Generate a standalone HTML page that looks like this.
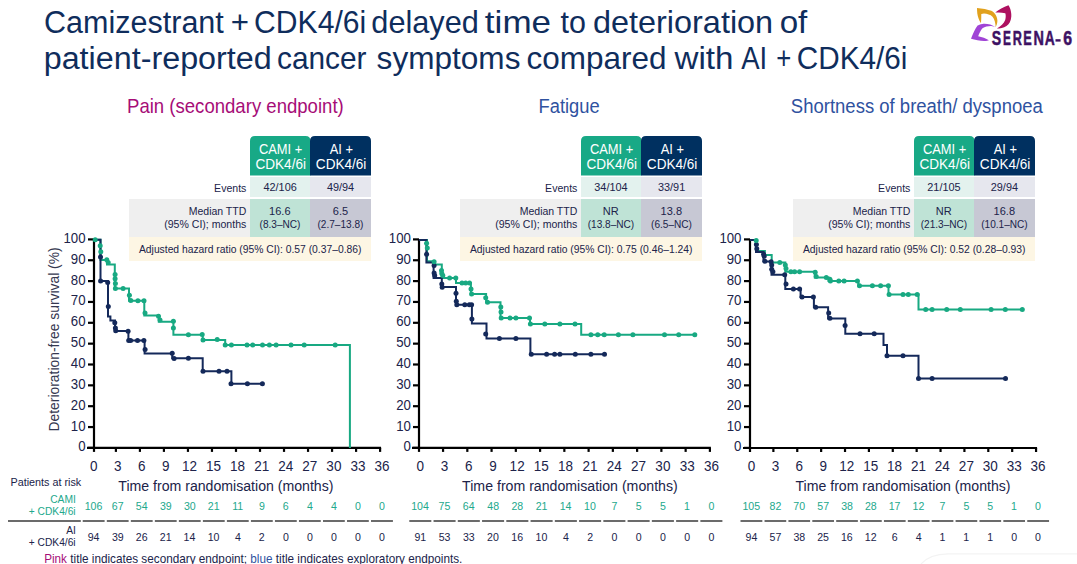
<!DOCTYPE html>
<html><head><meta charset="utf-8"><style>
html,body{margin:0;padding:0;background:#fff;width:1077px;height:564px;overflow:hidden}
svg{display:block;font-family:"Liberation Sans",sans-serif}
</style></head><body>
<svg width="1077" height="564" viewBox="0 0 1077 564">
<path d="M250,175.5 V141 Q250,136 255,136 H305.5 Q310.5,136 310.5,141 V175.5 Z" fill="#18a986"/>
<path d="M310,175.5 V141 Q310,136 315,136 H366 Q371,136 371,141 V175.5 Z" fill="#003060"/>
<rect x="250" y="177" width="60" height="20" fill="#e3f2ee"/>
<rect x="310" y="177" width="61" height="20" fill="#e6e7ee"/>
<rect x="129" y="199" width="121" height="38" fill="#efefef"/>
<rect x="250" y="199" width="60" height="38" fill="#bfe3d6"/>
<rect x="310" y="199" width="61" height="38" fill="#c7c8d4"/>
<rect x="129" y="237" width="242" height="24" fill="#fdf6e4"/>
<path d="M581,175.5 V141 Q581,136 586,136 H636.5 Q641.5,136 641.5,141 V175.5 Z" fill="#18a986"/>
<path d="M641,175.5 V141 Q641,136 646,136 H697 Q702,136 702,141 V175.5 Z" fill="#003060"/>
<rect x="581" y="177" width="60" height="20" fill="#e3f2ee"/>
<rect x="641" y="177" width="61" height="20" fill="#e6e7ee"/>
<rect x="460" y="199" width="121" height="38" fill="#efefef"/>
<rect x="581" y="199" width="60" height="38" fill="#bfe3d6"/>
<rect x="641" y="199" width="61" height="38" fill="#c7c8d4"/>
<rect x="460" y="237" width="242" height="24" fill="#fdf6e4"/>
<path d="M914,175.5 V141 Q914,136 919,136 H969.5 Q974.5,136 974.5,141 V175.5 Z" fill="#18a986"/>
<path d="M974,175.5 V141 Q974,136 979,136 H1030 Q1035,136 1035,141 V175.5 Z" fill="#003060"/>
<rect x="914" y="177" width="60" height="20" fill="#e3f2ee"/>
<rect x="974" y="177" width="61" height="20" fill="#e6e7ee"/>
<rect x="793" y="199" width="121" height="38" fill="#efefef"/>
<rect x="914" y="199" width="60" height="38" fill="#bfe3d6"/>
<rect x="974" y="199" width="61" height="38" fill="#c7c8d4"/>
<rect x="793" y="237" width="242" height="24" fill="#fdf6e4"/>
<path d="M94,239.39999999999998 V448.9" stroke="#000" stroke-width="2.2" fill="none"/>
<path d="M87,447.9 H381.096" stroke="#000" stroke-width="2.2" fill="none"/>
<path d="M88,447.90 H94" stroke="#000" stroke-width="2.2"/>
<path d="M88,427.05 H94" stroke="#000" stroke-width="2.2"/>
<path d="M88,406.20 H94" stroke="#000" stroke-width="2.2"/>
<path d="M88,385.35 H94" stroke="#000" stroke-width="2.2"/>
<path d="M88,364.50 H94" stroke="#000" stroke-width="2.2"/>
<path d="M88,343.65 H94" stroke="#000" stroke-width="2.2"/>
<path d="M88,322.80 H94" stroke="#000" stroke-width="2.2"/>
<path d="M88,301.95 H94" stroke="#000" stroke-width="2.2"/>
<path d="M88,281.10 H94" stroke="#000" stroke-width="2.2"/>
<path d="M88,260.25 H94" stroke="#000" stroke-width="2.2"/>
<path d="M88,239.40 H94" stroke="#000" stroke-width="2.2"/>
<path d="M94.00,447.9 V451.9" stroke="#000" stroke-width="2.2"/>
<path d="M115.90,447.9 V451.9" stroke="#000" stroke-width="2.2"/>
<path d="M139.92,447.9 V451.9" stroke="#000" stroke-width="2.2"/>
<path d="M163.93,447.9 V451.9" stroke="#000" stroke-width="2.2"/>
<path d="M187.95,447.9 V451.9" stroke="#000" stroke-width="2.2"/>
<path d="M211.97,447.9 V451.9" stroke="#000" stroke-width="2.2"/>
<path d="M235.99,447.9 V451.9" stroke="#000" stroke-width="2.2"/>
<path d="M260.01,447.9 V451.9" stroke="#000" stroke-width="2.2"/>
<path d="M284.02,447.9 V451.9" stroke="#000" stroke-width="2.2"/>
<path d="M308.04,447.9 V451.9" stroke="#000" stroke-width="2.2"/>
<path d="M332.06,447.9 V451.9" stroke="#000" stroke-width="2.2"/>
<path d="M356.08,447.9 V451.9" stroke="#000" stroke-width="2.2"/>
<path d="M380.10,447.9 V451.9" stroke="#000" stroke-width="2.2"/>
<path d="M82.70,521 H104.61" stroke="#6b6b6b" stroke-width="2"/>
<path d="M106.81,521 H128.63" stroke="#6b6b6b" stroke-width="2"/>
<path d="M130.83,521 H152.65" stroke="#6b6b6b" stroke-width="2"/>
<path d="M154.84,521 H176.66" stroke="#6b6b6b" stroke-width="2"/>
<path d="M178.86,521 H200.68" stroke="#6b6b6b" stroke-width="2"/>
<path d="M202.88,521 H224.70" stroke="#6b6b6b" stroke-width="2"/>
<path d="M226.90,521 H248.72" stroke="#6b6b6b" stroke-width="2"/>
<path d="M250.92,521 H272.74" stroke="#6b6b6b" stroke-width="2"/>
<path d="M274.94,521 H296.75" stroke="#6b6b6b" stroke-width="2"/>
<path d="M298.95,521 H320.77" stroke="#6b6b6b" stroke-width="2"/>
<path d="M322.97,521 H344.79" stroke="#6b6b6b" stroke-width="2"/>
<path d="M346.99,521 H368.81" stroke="#6b6b6b" stroke-width="2"/>
<path d="M371.01,521 H392.92" stroke="#6b6b6b" stroke-width="2"/>
<path d="M419,239.39999999999998 V448.9" stroke="#000" stroke-width="2.2" fill="none"/>
<path d="M412,447.9 H710.896" stroke="#000" stroke-width="2.2" fill="none"/>
<path d="M413,447.90 H419" stroke="#000" stroke-width="2.2"/>
<path d="M413,427.05 H419" stroke="#000" stroke-width="2.2"/>
<path d="M413,406.20 H419" stroke="#000" stroke-width="2.2"/>
<path d="M413,385.35 H419" stroke="#000" stroke-width="2.2"/>
<path d="M413,364.50 H419" stroke="#000" stroke-width="2.2"/>
<path d="M413,343.65 H419" stroke="#000" stroke-width="2.2"/>
<path d="M413,322.80 H419" stroke="#000" stroke-width="2.2"/>
<path d="M413,301.95 H419" stroke="#000" stroke-width="2.2"/>
<path d="M413,281.10 H419" stroke="#000" stroke-width="2.2"/>
<path d="M413,260.25 H419" stroke="#000" stroke-width="2.2"/>
<path d="M413,239.40 H419" stroke="#000" stroke-width="2.2"/>
<path d="M419.00,447.9 V451.9" stroke="#000" stroke-width="2.2"/>
<path d="M443.06,447.9 V451.9" stroke="#000" stroke-width="2.2"/>
<path d="M467.32,447.9 V451.9" stroke="#000" stroke-width="2.2"/>
<path d="M491.57,447.9 V451.9" stroke="#000" stroke-width="2.2"/>
<path d="M515.83,447.9 V451.9" stroke="#000" stroke-width="2.2"/>
<path d="M540.09,447.9 V451.9" stroke="#000" stroke-width="2.2"/>
<path d="M564.35,447.9 V451.9" stroke="#000" stroke-width="2.2"/>
<path d="M588.61,447.9 V451.9" stroke="#000" stroke-width="2.2"/>
<path d="M612.86,447.9 V451.9" stroke="#000" stroke-width="2.2"/>
<path d="M637.12,447.9 V451.9" stroke="#000" stroke-width="2.2"/>
<path d="M661.38,447.9 V451.9" stroke="#000" stroke-width="2.2"/>
<path d="M685.64,447.9 V451.9" stroke="#000" stroke-width="2.2"/>
<path d="M709.90,447.9 V451.9" stroke="#000" stroke-width="2.2"/>
<path d="M409.30,521 H431.33" stroke="#6b6b6b" stroke-width="2"/>
<path d="M433.53,521 H455.59" stroke="#6b6b6b" stroke-width="2"/>
<path d="M457.79,521 H479.85" stroke="#6b6b6b" stroke-width="2"/>
<path d="M482.05,521 H504.10" stroke="#6b6b6b" stroke-width="2"/>
<path d="M506.30,521 H528.36" stroke="#6b6b6b" stroke-width="2"/>
<path d="M530.56,521 H552.62" stroke="#6b6b6b" stroke-width="2"/>
<path d="M554.82,521 H576.88" stroke="#6b6b6b" stroke-width="2"/>
<path d="M579.08,521 H601.13" stroke="#6b6b6b" stroke-width="2"/>
<path d="M603.34,521 H625.39" stroke="#6b6b6b" stroke-width="2"/>
<path d="M627.59,521 H649.65" stroke="#6b6b6b" stroke-width="2"/>
<path d="M651.85,521 H673.91" stroke="#6b6b6b" stroke-width="2"/>
<path d="M676.11,521 H698.17" stroke="#6b6b6b" stroke-width="2"/>
<path d="M700.37,521 H722.40" stroke="#6b6b6b" stroke-width="2"/>
<path d="M750,239.39999999999998 V449.0" stroke="#000" stroke-width="2.2" fill="none"/>
<path d="M743,448.0 H1037.06" stroke="#000" stroke-width="2.2" fill="none"/>
<path d="M744,447.90 H750" stroke="#000" stroke-width="2.2"/>
<path d="M744,427.05 H750" stroke="#000" stroke-width="2.2"/>
<path d="M744,406.20 H750" stroke="#000" stroke-width="2.2"/>
<path d="M744,385.35 H750" stroke="#000" stroke-width="2.2"/>
<path d="M744,364.50 H750" stroke="#000" stroke-width="2.2"/>
<path d="M744,343.65 H750" stroke="#000" stroke-width="2.2"/>
<path d="M744,322.80 H750" stroke="#000" stroke-width="2.2"/>
<path d="M744,301.95 H750" stroke="#000" stroke-width="2.2"/>
<path d="M744,281.10 H750" stroke="#000" stroke-width="2.2"/>
<path d="M744,260.25 H750" stroke="#000" stroke-width="2.2"/>
<path d="M744,239.40 H750" stroke="#000" stroke-width="2.2"/>
<path d="M750.00,448.0 V452.0" stroke="#000" stroke-width="2.2"/>
<path d="M773.38,448.0 V452.0" stroke="#000" stroke-width="2.2"/>
<path d="M797.26,448.0 V452.0" stroke="#000" stroke-width="2.2"/>
<path d="M821.14,448.0 V452.0" stroke="#000" stroke-width="2.2"/>
<path d="M845.02,448.0 V452.0" stroke="#000" stroke-width="2.2"/>
<path d="M868.90,448.0 V452.0" stroke="#000" stroke-width="2.2"/>
<path d="M892.78,448.0 V452.0" stroke="#000" stroke-width="2.2"/>
<path d="M916.66,448.0 V452.0" stroke="#000" stroke-width="2.2"/>
<path d="M940.54,448.0 V452.0" stroke="#000" stroke-width="2.2"/>
<path d="M964.42,448.0 V452.0" stroke="#000" stroke-width="2.2"/>
<path d="M988.30,448.0 V452.0" stroke="#000" stroke-width="2.2"/>
<path d="M1012.18,448.0 V452.0" stroke="#000" stroke-width="2.2"/>
<path d="M1036.06,448.0 V452.0" stroke="#000" stroke-width="2.2"/>
<path d="M740.50,521 H762.34" stroke="#6b6b6b" stroke-width="2"/>
<path d="M764.54,521 H786.22" stroke="#6b6b6b" stroke-width="2"/>
<path d="M788.42,521 H810.10" stroke="#6b6b6b" stroke-width="2"/>
<path d="M812.30,521 H833.98" stroke="#6b6b6b" stroke-width="2"/>
<path d="M836.18,521 H857.86" stroke="#6b6b6b" stroke-width="2"/>
<path d="M860.06,521 H881.74" stroke="#6b6b6b" stroke-width="2"/>
<path d="M883.94,521 H905.62" stroke="#6b6b6b" stroke-width="2"/>
<path d="M907.82,521 H929.50" stroke="#6b6b6b" stroke-width="2"/>
<path d="M931.70,521 H953.38" stroke="#6b6b6b" stroke-width="2"/>
<path d="M955.58,521 H977.26" stroke="#6b6b6b" stroke-width="2"/>
<path d="M979.46,521 H1001.14" stroke="#6b6b6b" stroke-width="2"/>
<path d="M1003.34,521 H1025.02" stroke="#6b6b6b" stroke-width="2"/>
<path d="M1027.22,521 H1049.06" stroke="#6b6b6b" stroke-width="2"/>
<path d="M8,521 H80.8" stroke="#6b6b6b" stroke-width="2"/>
<path d="M94,239.7 H100.5 V259.9 H107 V264.4 H114.8 V288.6 H129 V300.8 H144.3 V315.6 H158.8 V321.8 H173.4 V334.8 H202.7 V339.9 H225.2 V345 H349.9 V447.9" stroke="#18a982" stroke-width="2" fill="none"/>
<path d="M94,239.7 H100.5 V281 H108 V316.5 H110.4 V320.5 H115 V331 H128.4 V340.4 H144.6 V353.4 H172.2 V358.3 H202.7 V371.3 H231.4 V383.7 H262.4" stroke="#14295a" stroke-width="2" fill="none"/>
<circle cx="100.5" cy="257.1" r="2.5" fill="#14295a"/><circle cx="100.6" cy="281" r="2.5" fill="#14295a"/><circle cx="107.7" cy="282.4" r="2.5" fill="#14295a"/><circle cx="108.3" cy="306.4" r="2.5" fill="#14295a"/><circle cx="114.8" cy="322.7" r="2.5" fill="#14295a"/><circle cx="115.4" cy="328" r="2.5" fill="#14295a"/><circle cx="115.7" cy="330.7" r="2.5" fill="#14295a"/><circle cx="128.1" cy="331.2" r="2.5" fill="#14295a"/><circle cx="128.7" cy="340.4" r="2.5" fill="#14295a"/><circle cx="130.6" cy="340.4" r="2.5" fill="#14295a"/><circle cx="137.5" cy="340.4" r="2.5" fill="#14295a"/><circle cx="143.9" cy="340.4" r="2.5" fill="#14295a"/><circle cx="145.1" cy="349.5" r="2.5" fill="#14295a"/><circle cx="172.2" cy="353.2" r="2.5" fill="#14295a"/><circle cx="174.1" cy="358.4" r="2.5" fill="#14295a"/><circle cx="188.4" cy="358.3" r="2.5" fill="#14295a"/><circle cx="203" cy="371.3" r="2.5" fill="#14295a"/><circle cx="219" cy="371.3" r="2.5" fill="#14295a"/><circle cx="227" cy="371.3" r="2.5" fill="#14295a"/><circle cx="231" cy="383.7" r="2.5" fill="#14295a"/><circle cx="247.4" cy="383.7" r="2.5" fill="#14295a"/><circle cx="262.4" cy="383.7" r="2.5" fill="#14295a"/>
<circle cx="95.2" cy="239.7" r="2.5" fill="#18a982"/><circle cx="100.2" cy="245.8" r="2.5" fill="#18a982"/><circle cx="100.8" cy="251.7" r="2.5" fill="#18a982"/><circle cx="106.8" cy="259.8" r="2.5" fill="#18a982"/><circle cx="108.2" cy="262.5" r="2.5" fill="#18a982"/><circle cx="115.1" cy="274.6" r="2.5" fill="#18a982"/><circle cx="115.1" cy="278.8" r="2.5" fill="#18a982"/><circle cx="115.4" cy="283.6" r="2.5" fill="#18a982"/><circle cx="115.4" cy="288.4" r="2.5" fill="#18a982"/><circle cx="123.1" cy="288.4" r="2.5" fill="#18a982"/><circle cx="129.4" cy="295.2" r="2.5" fill="#18a982"/><circle cx="130.8" cy="300.5" r="2.5" fill="#18a982"/><circle cx="137.9" cy="300.8" r="2.5" fill="#18a982"/><circle cx="144" cy="300.8" r="2.5" fill="#18a982"/><circle cx="145" cy="313" r="2.5" fill="#18a982"/><circle cx="158.5" cy="316.2" r="2.5" fill="#18a982"/><circle cx="160" cy="320" r="2.5" fill="#18a982"/><circle cx="173.4" cy="321.2" r="2.5" fill="#18a982"/><circle cx="173.4" cy="328" r="2.5" fill="#18a982"/><circle cx="188.4" cy="334.8" r="2.5" fill="#18a982"/><circle cx="202.2" cy="334.5" r="2.5" fill="#18a982"/><circle cx="203" cy="339.9" r="2.5" fill="#18a982"/><circle cx="217.2" cy="339.6" r="2.5" fill="#18a982"/><circle cx="225.2" cy="345" r="2.5" fill="#18a982"/><circle cx="231.4" cy="345" r="2.5" fill="#18a982"/><circle cx="247" cy="345" r="2.5" fill="#18a982"/><circle cx="252.7" cy="345" r="2.5" fill="#18a982"/><circle cx="262.5" cy="345" r="2.5" fill="#18a982"/><circle cx="269.4" cy="345" r="2.5" fill="#18a982"/><circle cx="276.1" cy="345" r="2.5" fill="#18a982"/><circle cx="291" cy="345" r="2.5" fill="#18a982"/><circle cx="304.2" cy="345" r="2.5" fill="#18a982"/><circle cx="335.2" cy="345" r="2.5" fill="#18a982"/>
<path d="M419,240 H427 V261.2 H435 V264.5 H441.8 V277.9 H456 V282.9 H470.9 V293.9 H486.1 V302.2 H500.5 V318 H530 V323.9 H581.2 V334.8 H694.8" stroke="#18a982" stroke-width="2" fill="none"/>
<path d="M419,240 H426.4 V262.4 H433.6 V277.9 H441.8 V287.1 H456 V304.8 H471.9 V323.4 H486.5 V338.5 H530.4 V354.3 H604.5" stroke="#14295a" stroke-width="2" fill="none"/>
<circle cx="426.6" cy="254.3" r="2.5" fill="#14295a"/><circle cx="434.1" cy="265.5" r="2.5" fill="#14295a"/><circle cx="434.1" cy="273" r="2.5" fill="#14295a"/><circle cx="434.7" cy="275.4" r="2.5" fill="#14295a"/><circle cx="441.8" cy="284.1" r="2.5" fill="#14295a"/><circle cx="442.2" cy="287.2" r="2.5" fill="#14295a"/><circle cx="456" cy="293.3" r="2.5" fill="#14295a"/><circle cx="456.3" cy="301.3" r="2.5" fill="#14295a"/><circle cx="456.8" cy="304.8" r="2.5" fill="#14295a"/><circle cx="464.8" cy="304.8" r="2.5" fill="#14295a"/><circle cx="469.3" cy="304.8" r="2.5" fill="#14295a"/><circle cx="471.6" cy="304.8" r="2.5" fill="#14295a"/><circle cx="471.9" cy="319" r="2.5" fill="#14295a"/><circle cx="485.7" cy="334" r="2.5" fill="#14295a"/><circle cx="499.4" cy="338.5" r="2.5" fill="#14295a"/><circle cx="515.9" cy="338.5" r="2.5" fill="#14295a"/><circle cx="531.3" cy="354.3" r="2.5" fill="#14295a"/><circle cx="546.6" cy="354.3" r="2.5" fill="#14295a"/><circle cx="554.6" cy="354.3" r="2.5" fill="#14295a"/><circle cx="559.9" cy="354.3" r="2.5" fill="#14295a"/><circle cx="575.3" cy="354.3" r="2.5" fill="#14295a"/><circle cx="590.9" cy="354.3" r="2.5" fill="#14295a"/><circle cx="604.5" cy="354.3" r="2.5" fill="#14295a"/>
<circle cx="426.6" cy="243.2" r="2.5" fill="#18a982"/><circle cx="427.3" cy="248.1" r="2.5" fill="#18a982"/><circle cx="434.1" cy="261.8" r="2.5" fill="#18a982"/><circle cx="441.5" cy="270.5" r="2.5" fill="#18a982"/><circle cx="441.8" cy="273.6" r="2.5" fill="#18a982"/><circle cx="442.8" cy="275.4" r="2.5" fill="#18a982"/><circle cx="449.6" cy="277.9" r="2.5" fill="#18a982"/><circle cx="455.8" cy="277.9" r="2.5" fill="#18a982"/><circle cx="462" cy="282.9" r="2.5" fill="#18a982"/><circle cx="465.7" cy="282.9" r="2.5" fill="#18a982"/><circle cx="469.5" cy="282.9" r="2.5" fill="#18a982"/><circle cx="471" cy="288.9" r="2.5" fill="#18a982"/><circle cx="471.6" cy="293.9" r="2.5" fill="#18a982"/><circle cx="485.7" cy="297.7" r="2.5" fill="#18a982"/><circle cx="487.5" cy="302.2" r="2.5" fill="#18a982"/><circle cx="500.8" cy="307" r="2.5" fill="#18a982"/><circle cx="501" cy="312" r="2.5" fill="#18a982"/><circle cx="501.2" cy="318" r="2.5" fill="#18a982"/><circle cx="510" cy="318" r="2.5" fill="#18a982"/><circle cx="515.9" cy="318" r="2.5" fill="#18a982"/><circle cx="529.5" cy="318" r="2.5" fill="#18a982"/><circle cx="530.4" cy="323.9" r="2.5" fill="#18a982"/><circle cx="544.8" cy="323.9" r="2.5" fill="#18a982"/><circle cx="559.9" cy="323.9" r="2.5" fill="#18a982"/><circle cx="575" cy="323.9" r="2.5" fill="#18a982"/><circle cx="590.9" cy="334.8" r="2.5" fill="#18a982"/><circle cx="597.7" cy="334.8" r="2.5" fill="#18a982"/><circle cx="604.2" cy="334.8" r="2.5" fill="#18a982"/><circle cx="618.4" cy="334.8" r="2.5" fill="#18a982"/><circle cx="632.9" cy="334.8" r="2.5" fill="#18a982"/><circle cx="664.5" cy="334.8" r="2.5" fill="#18a982"/><circle cx="678.7" cy="334.8" r="2.5" fill="#18a982"/><circle cx="694.8" cy="334.8" r="2.5" fill="#18a982"/>
<path d="M750,240 H756.2 V250.9 H764.9 V255 H771.7 V262.4 H785.3 V271.7 H814.8 V277.5 H828.5 V281 H858.3 V285.7 H888.5 V294.5 H918.5 V309.6 H1022.3" stroke="#18a982" stroke-width="2" fill="none"/>
<path d="M750,240 H756 V251.9 H763.5 V261.4 H771.5 V274.8 H785.3 V289.1 H800.6 V297 H813.9 V307.3 H828.1 V318.6 H845.3 V333.8 H883.5 V344.9 H887 V355.7 H918.5 V378.6 H1005.5" stroke="#14295a" stroke-width="2" fill="none"/>
<circle cx="756.4" cy="244.4" r="2.5" fill="#14295a"/><circle cx="756.8" cy="248.8" r="2.5" fill="#14295a"/><circle cx="763.6" cy="254.3" r="2.5" fill="#14295a"/><circle cx="764.2" cy="256.2" r="2.5" fill="#14295a"/><circle cx="764.9" cy="261.2" r="2.5" fill="#14295a"/><circle cx="771.1" cy="261.8" r="2.5" fill="#14295a"/><circle cx="771.7" cy="264.9" r="2.5" fill="#14295a"/><circle cx="771.7" cy="269.2" r="2.5" fill="#14295a"/><circle cx="772.9" cy="271.7" r="2.5" fill="#14295a"/><circle cx="784.7" cy="274.8" r="2.5" fill="#14295a"/><circle cx="786" cy="284.1" r="2.5" fill="#14295a"/><circle cx="793.4" cy="289.1" r="2.5" fill="#14295a"/><circle cx="799.6" cy="289.1" r="2.5" fill="#14295a"/><circle cx="802" cy="297" r="2.5" fill="#14295a"/><circle cx="813.4" cy="297" r="2.5" fill="#14295a"/><circle cx="815.7" cy="307.3" r="2.5" fill="#14295a"/><circle cx="828.7" cy="313" r="2.5" fill="#14295a"/><circle cx="829.9" cy="318.3" r="2.5" fill="#14295a"/><circle cx="845.1" cy="325.4" r="2.5" fill="#14295a"/><circle cx="860" cy="333.8" r="2.5" fill="#14295a"/><circle cx="874.2" cy="333.8" r="2.5" fill="#14295a"/><circle cx="887" cy="355.7" r="2.5" fill="#14295a"/><circle cx="903" cy="355.7" r="2.5" fill="#14295a"/><circle cx="918.5" cy="378.6" r="2.5" fill="#14295a"/><circle cx="932.1" cy="378.6" r="2.5" fill="#14295a"/><circle cx="1005.5" cy="378.6" r="2.5" fill="#14295a"/>
<circle cx="756.2" cy="240.4" r="2.5" fill="#18a982"/><circle cx="779.8" cy="262.4" r="2.5" fill="#18a982"/><circle cx="785.3" cy="264.9" r="2.5" fill="#18a982"/><circle cx="786" cy="268.6" r="2.5" fill="#18a982"/><circle cx="790.9" cy="271.7" r="2.5" fill="#18a982"/><circle cx="794.6" cy="271.7" r="2.5" fill="#18a982"/><circle cx="799.6" cy="271.7" r="2.5" fill="#18a982"/><circle cx="815.2" cy="272.2" r="2.5" fill="#18a982"/><circle cx="816.2" cy="276.6" r="2.5" fill="#18a982"/><circle cx="826.3" cy="277.5" r="2.5" fill="#18a982"/><circle cx="829.9" cy="279.3" r="2.5" fill="#18a982"/><circle cx="830.4" cy="281" r="2.5" fill="#18a982"/><circle cx="838.8" cy="281" r="2.5" fill="#18a982"/><circle cx="844.1" cy="281" r="2.5" fill="#18a982"/><circle cx="857.4" cy="281" r="2.5" fill="#18a982"/><circle cx="859.5" cy="285.7" r="2.5" fill="#18a982"/><circle cx="872.4" cy="285.7" r="2.5" fill="#18a982"/><circle cx="880.6" cy="285.7" r="2.5" fill="#18a982"/><circle cx="888.4" cy="285.7" r="2.5" fill="#18a982"/><circle cx="889.1" cy="294.5" r="2.5" fill="#18a982"/><circle cx="903" cy="294.5" r="2.5" fill="#18a982"/><circle cx="908.3" cy="294.5" r="2.5" fill="#18a982"/><circle cx="917.2" cy="294.5" r="2.5" fill="#18a982"/><circle cx="925.7" cy="309.6" r="2.5" fill="#18a982"/><circle cx="932.1" cy="309.6" r="2.5" fill="#18a982"/><circle cx="946.7" cy="309.6" r="2.5" fill="#18a982"/><circle cx="960.3" cy="309.6" r="2.5" fill="#18a982"/><circle cx="991.1" cy="309.6" r="2.5" fill="#18a982"/><circle cx="1005.3" cy="309.6" r="2.5" fill="#18a982"/><circle cx="1022.3" cy="309.6" r="2.5" fill="#18a982"/>
<text transform="translate(44.07,33.40) scale(0.9847,1)" font-size="31" fill="#0f2d5c">Camizestrant</text>
<text transform="translate(230.79,33.40) scale(1.0072,1)" font-size="31" fill="#0f2d5c">+</text>
<text transform="translate(254.09,33.40) scale(0.9714,1)" font-size="31" fill="#0f2d5c">CDK4/6i</text>
<text transform="translate(371.37,33.40) scale(0.9900,1)" font-size="31" fill="#0f2d5c">delayed</text>
<text transform="translate(484.87,33.40) scale(1.1316,1)" font-size="31" fill="#0f2d5c">time</text>
<text transform="translate(560.44,33.40) scale(0.9829,1)" font-size="31" fill="#0f2d5c">to</text>
<text transform="translate(593.00,33.40) scale(1.0455,1)" font-size="31" fill="#0f2d5c">deterioration</text>
<text transform="translate(779.67,33.40) scale(1.0697,1)" font-size="31" fill="#0f2d5c">of</text>
<text transform="translate(43.66,68.70) scale(1.0423,1)" font-size="31" fill="#0f2d5c">patient-reported</text>
<text transform="translate(277.01,68.70) scale(0.9628,1)" font-size="31" fill="#0f2d5c">cancer</text>
<text transform="translate(376.61,68.70) scale(1.0188,1)" font-size="31" fill="#0f2d5c">symptoms</text>
<text transform="translate(526.54,68.70) scale(1.0155,1)" font-size="31" fill="#0f2d5c">compared</text>
<text transform="translate(674.47,68.70) scale(1.0695,1)" font-size="31" fill="#0f2d5c">with</text>
<text transform="translate(741.20,68.70) scale(0.8883,1)" font-size="31" fill="#0f2d5c">AI</text>
<text transform="translate(776.24,68.70) scale(0.8295,1)" font-size="31" fill="#0f2d5c">+</text>
<text transform="translate(796.81,68.70) scale(0.9589,1)" font-size="31" fill="#0f2d5c">CDK4/6i</text>
<text transform="translate(127.01,113.00) scale(0.8846,1)" font-size="21" fill="#a60d77">Pain (secondary endpoint)</text>
<text transform="translate(538.53,112.50) scale(0.8741,1)" font-size="21" fill="#2f52a0">Fatigue</text>
<text transform="translate(790.87,112.50) scale(0.8813,1)" font-size="21" fill="#2f52a0">Shortness of breath/ dyspnoea</text>
<text transform="translate(258.91,153.50) scale(0.8600,1)" font-size="15" fill="#fff">CAMI +</text>
<text transform="translate(255.44,168.80) scale(0.9050,1)" font-size="15" fill="#fff">CDK4/6i</text>
<text transform="translate(329.66,153.50) scale(0.8600,1)" font-size="15" fill="#fff">AI +</text>
<text transform="translate(315.84,168.80) scale(0.9050,1)" font-size="15" fill="#fff">CDK4/6i</text>
<text transform="translate(214.10,191.90) scale(0.9100,1)" font-size="11.6" fill="#20234a">Events</text>
<text transform="translate(188.74,214.80) scale(0.9050,1)" font-size="11.6" fill="#20234a">Median TTD</text>
<text transform="translate(164.24,227.50) scale(0.9100,1)" font-size="11.6" fill="#20234a">(95% CI); months</text>
<text transform="translate(263.44,191.30) scale(0.9400,1)" font-size="11.6" fill="#20234a">42/106</text>
<text transform="translate(326.89,191.30) scale(0.9400,1)" font-size="11.6" fill="#20234a">49/94</text>
<text transform="translate(269.09,214.70) scale(0.9500,1)" font-size="11.6" fill="#20234a">16.6</text>
<text transform="translate(259.52,227.60) scale(0.8700,1)" font-size="11.6" fill="#20234a">(8.3–NC)</text>
<text transform="translate(332.79,214.70) scale(0.9500,1)" font-size="11.6" fill="#20234a">6.5</text>
<text transform="translate(317.49,227.60) scale(0.8700,1)" font-size="11.6" fill="#20234a">(2.7–13.8)</text>
<text transform="translate(138.97,252.80) scale(0.8900,1)" font-size="11.6" fill="#20234a">Adjusted hazard ratio (95% CI): 0.57 (0.37–0.86)</text>
<text transform="translate(589.91,153.50) scale(0.8600,1)" font-size="15" fill="#fff">CAMI +</text>
<text transform="translate(586.44,168.80) scale(0.9050,1)" font-size="15" fill="#fff">CDK4/6i</text>
<text transform="translate(660.66,153.50) scale(0.8600,1)" font-size="15" fill="#fff">AI +</text>
<text transform="translate(646.84,168.80) scale(0.9050,1)" font-size="15" fill="#fff">CDK4/6i</text>
<text transform="translate(545.10,191.90) scale(0.9100,1)" font-size="11.6" fill="#20234a">Events</text>
<text transform="translate(519.74,214.80) scale(0.9050,1)" font-size="11.6" fill="#20234a">Median TTD</text>
<text transform="translate(495.24,227.50) scale(0.9100,1)" font-size="11.6" fill="#20234a">(95% CI); months</text>
<text transform="translate(594.28,191.30) scale(0.9400,1)" font-size="11.6" fill="#20234a">34/104</text>
<text transform="translate(657.92,191.30) scale(0.9400,1)" font-size="11.6" fill="#20234a">33/91</text>
<text transform="translate(602.83,214.70) scale(0.9500,1)" font-size="11.6" fill="#20234a">NR</text>
<text transform="translate(587.71,227.60) scale(0.8700,1)" font-size="11.6" fill="#20234a">(13.8–NC)</text>
<text transform="translate(660.59,214.70) scale(0.9500,1)" font-size="11.6" fill="#20234a">13.8</text>
<text transform="translate(651.02,227.60) scale(0.8700,1)" font-size="11.6" fill="#20234a">(6.5–NC)</text>
<text transform="translate(469.97,252.80) scale(0.8900,1)" font-size="11.6" fill="#20234a">Adjusted hazard ratio (95% CI): 0.75 (0.46–1.24)</text>
<text transform="translate(922.91,153.50) scale(0.8600,1)" font-size="15" fill="#fff">CAMI +</text>
<text transform="translate(919.44,168.80) scale(0.9050,1)" font-size="15" fill="#fff">CDK4/6i</text>
<text transform="translate(993.66,153.50) scale(0.8600,1)" font-size="15" fill="#fff">AI +</text>
<text transform="translate(979.84,168.80) scale(0.9050,1)" font-size="15" fill="#fff">CDK4/6i</text>
<text transform="translate(878.10,191.90) scale(0.9100,1)" font-size="11.6" fill="#20234a">Events</text>
<text transform="translate(852.74,214.80) scale(0.9050,1)" font-size="11.6" fill="#20234a">Median TTD</text>
<text transform="translate(828.24,227.50) scale(0.9100,1)" font-size="11.6" fill="#20234a">(95% CI); months</text>
<text transform="translate(927.28,191.30) scale(0.9400,1)" font-size="11.6" fill="#20234a">21/105</text>
<text transform="translate(990.73,191.30) scale(0.9400,1)" font-size="11.6" fill="#20234a">29/94</text>
<text transform="translate(935.83,214.70) scale(0.9500,1)" font-size="11.6" fill="#20234a">NR</text>
<text transform="translate(920.71,227.60) scale(0.8700,1)" font-size="11.6" fill="#20234a">(21.3–NC)</text>
<text transform="translate(993.59,214.70) scale(0.9500,1)" font-size="11.6" fill="#20234a">16.8</text>
<text transform="translate(981.21,227.60) scale(0.8700,1)" font-size="11.6" fill="#20234a">(10.1–NC)</text>
<text transform="translate(802.97,252.80) scale(0.8900,1)" font-size="11.6" fill="#20234a">Adjusted hazard ratio (95% CI): 0.52 (0.28–0.93)</text>
<text transform="translate(78.22,451.40) scale(0.9000,1)" font-size="14.7" fill="#20234a">0</text>
<text transform="translate(70.86,430.55) scale(0.9000,1)" font-size="14.7" fill="#20234a">10</text>
<text transform="translate(70.86,409.70) scale(0.9000,1)" font-size="14.7" fill="#20234a">20</text>
<text transform="translate(70.86,388.85) scale(0.9000,1)" font-size="14.7" fill="#20234a">30</text>
<text transform="translate(70.86,368.00) scale(0.9000,1)" font-size="14.7" fill="#20234a">40</text>
<text transform="translate(70.86,347.15) scale(0.9000,1)" font-size="14.7" fill="#20234a">50</text>
<text transform="translate(70.86,326.30) scale(0.9000,1)" font-size="14.7" fill="#20234a">60</text>
<text transform="translate(70.86,305.45) scale(0.9000,1)" font-size="14.7" fill="#20234a">70</text>
<text transform="translate(70.86,284.60) scale(0.9000,1)" font-size="14.7" fill="#20234a">80</text>
<text transform="translate(70.86,263.75) scale(0.9000,1)" font-size="14.7" fill="#20234a">90</text>
<text transform="translate(63.50,242.90) scale(0.9000,1)" font-size="14.7" fill="#20234a">100</text>
<text transform="translate(89.95,470.70) scale(0.9200,1)" font-size="14.7" fill="#20234a">0</text>
<text transform="translate(114.00,470.70) scale(0.9200,1)" font-size="14.7" fill="#20234a">3</text>
<text transform="translate(137.92,470.70) scale(0.9200,1)" font-size="14.7" fill="#20234a">6</text>
<text transform="translate(162.00,470.70) scale(0.9200,1)" font-size="14.7" fill="#20234a">9</text>
<text transform="translate(182.06,470.70) scale(0.9200,1)" font-size="14.7" fill="#20234a">12</text>
<text transform="translate(206.04,470.70) scale(0.9200,1)" font-size="14.7" fill="#20234a">15</text>
<text transform="translate(230.06,470.70) scale(0.9200,1)" font-size="14.7" fill="#20234a">18</text>
<text transform="translate(254.28,470.70) scale(0.9200,1)" font-size="14.7" fill="#20234a">21</text>
<text transform="translate(278.16,470.70) scale(0.9200,1)" font-size="14.7" fill="#20234a">24</text>
<text transform="translate(302.31,470.70) scale(0.9200,1)" font-size="14.7" fill="#20234a">27</text>
<text transform="translate(326.37,470.70) scale(0.9200,1)" font-size="14.7" fill="#20234a">30</text>
<text transform="translate(350.42,470.70) scale(0.9200,1)" font-size="14.7" fill="#20234a">33</text>
<text transform="translate(374.44,470.70) scale(0.9200,1)" font-size="14.7" fill="#20234a">36</text>
<text transform="translate(118.32,490.50) scale(0.9291,1)" font-size="15.2" fill="#20234a">Time from randomisation (months)</text>
<text transform="translate(403.52,451.40) scale(0.9000,1)" font-size="14.7" fill="#20234a">0</text>
<text transform="translate(396.16,430.55) scale(0.9000,1)" font-size="14.7" fill="#20234a">10</text>
<text transform="translate(396.16,409.70) scale(0.9000,1)" font-size="14.7" fill="#20234a">20</text>
<text transform="translate(396.16,388.85) scale(0.9000,1)" font-size="14.7" fill="#20234a">30</text>
<text transform="translate(396.16,368.00) scale(0.9000,1)" font-size="14.7" fill="#20234a">40</text>
<text transform="translate(396.16,347.15) scale(0.9000,1)" font-size="14.7" fill="#20234a">50</text>
<text transform="translate(396.16,326.30) scale(0.9000,1)" font-size="14.7" fill="#20234a">60</text>
<text transform="translate(396.16,305.45) scale(0.9000,1)" font-size="14.7" fill="#20234a">70</text>
<text transform="translate(396.16,284.60) scale(0.9000,1)" font-size="14.7" fill="#20234a">80</text>
<text transform="translate(396.16,263.75) scale(0.9000,1)" font-size="14.7" fill="#20234a">90</text>
<text transform="translate(388.80,242.90) scale(0.9000,1)" font-size="14.7" fill="#20234a">100</text>
<text transform="translate(416.55,470.70) scale(0.9200,1)" font-size="14.7" fill="#20234a">0</text>
<text transform="translate(440.84,470.70) scale(0.9200,1)" font-size="14.7" fill="#20234a">3</text>
<text transform="translate(465.00,470.70) scale(0.9200,1)" font-size="14.7" fill="#20234a">6</text>
<text transform="translate(489.32,470.70) scale(0.9200,1)" font-size="14.7" fill="#20234a">9</text>
<text transform="translate(509.62,470.70) scale(0.9200,1)" font-size="14.7" fill="#20234a">12</text>
<text transform="translate(533.84,470.70) scale(0.9200,1)" font-size="14.7" fill="#20234a">15</text>
<text transform="translate(558.10,470.70) scale(0.9200,1)" font-size="14.7" fill="#20234a">18</text>
<text transform="translate(582.56,470.70) scale(0.9200,1)" font-size="14.7" fill="#20234a">21</text>
<text transform="translate(606.68,470.70) scale(0.9200,1)" font-size="14.7" fill="#20234a">24</text>
<text transform="translate(631.07,470.70) scale(0.9200,1)" font-size="14.7" fill="#20234a">27</text>
<text transform="translate(655.37,470.70) scale(0.9200,1)" font-size="14.7" fill="#20234a">30</text>
<text transform="translate(679.66,470.70) scale(0.9200,1)" font-size="14.7" fill="#20234a">33</text>
<text transform="translate(703.92,470.70) scale(0.9200,1)" font-size="14.7" fill="#20234a">36</text>
<text transform="translate(462.12,490.50) scale(0.9313,1)" font-size="15.2" fill="#20234a">Time from randomisation (months)</text>
<text transform="translate(734.12,451.40) scale(0.9000,1)" font-size="14.7" fill="#20234a">0</text>
<text transform="translate(726.76,430.55) scale(0.9000,1)" font-size="14.7" fill="#20234a">10</text>
<text transform="translate(726.76,409.70) scale(0.9000,1)" font-size="14.7" fill="#20234a">20</text>
<text transform="translate(726.76,388.85) scale(0.9000,1)" font-size="14.7" fill="#20234a">30</text>
<text transform="translate(726.76,368.00) scale(0.9000,1)" font-size="14.7" fill="#20234a">40</text>
<text transform="translate(726.76,347.15) scale(0.9000,1)" font-size="14.7" fill="#20234a">50</text>
<text transform="translate(726.76,326.30) scale(0.9000,1)" font-size="14.7" fill="#20234a">60</text>
<text transform="translate(726.76,305.45) scale(0.9000,1)" font-size="14.7" fill="#20234a">70</text>
<text transform="translate(726.76,284.60) scale(0.9000,1)" font-size="14.7" fill="#20234a">80</text>
<text transform="translate(726.76,263.75) scale(0.9000,1)" font-size="14.7" fill="#20234a">90</text>
<text transform="translate(719.40,242.90) scale(0.9000,1)" font-size="14.7" fill="#20234a">100</text>
<text transform="translate(747.75,470.70) scale(0.9200,1)" font-size="14.7" fill="#20234a">0</text>
<text transform="translate(771.66,470.70) scale(0.9200,1)" font-size="14.7" fill="#20234a">3</text>
<text transform="translate(795.44,470.70) scale(0.9200,1)" font-size="14.7" fill="#20234a">6</text>
<text transform="translate(819.39,470.70) scale(0.9200,1)" font-size="14.7" fill="#20234a">9</text>
<text transform="translate(839.30,470.70) scale(0.9200,1)" font-size="14.7" fill="#20234a">12</text>
<text transform="translate(863.15,470.70) scale(0.9200,1)" font-size="14.7" fill="#20234a">15</text>
<text transform="translate(887.03,470.70) scale(0.9200,1)" font-size="14.7" fill="#20234a">18</text>
<text transform="translate(911.11,470.70) scale(0.9200,1)" font-size="14.7" fill="#20234a">21</text>
<text transform="translate(934.86,470.70) scale(0.9200,1)" font-size="14.7" fill="#20234a">24</text>
<text transform="translate(958.87,470.70) scale(0.9200,1)" font-size="14.7" fill="#20234a">27</text>
<text transform="translate(982.79,470.70) scale(0.9200,1)" font-size="14.7" fill="#20234a">30</text>
<text transform="translate(1006.70,470.70) scale(0.9200,1)" font-size="14.7" fill="#20234a">33</text>
<text transform="translate(1030.58,470.70) scale(0.9200,1)" font-size="14.7" fill="#20234a">36</text>
<text transform="translate(795.52,490.50) scale(0.9283,1)" font-size="15.2" fill="#20234a">Time from randomisation (months)</text>
<text transform="translate(84.68,509.80) scale(0.9300,1)" font-size="11.4" fill="#22a88c">106</text>
<text transform="translate(87.70,540.90) scale(0.9300,1)" font-size="11.4" fill="#20234a">94</text>
<text transform="translate(111.80,509.80) scale(0.9300,1)" font-size="11.4" fill="#22a88c">67</text>
<text transform="translate(111.88,540.90) scale(0.9300,1)" font-size="11.4" fill="#20234a">39</text>
<text transform="translate(135.77,509.80) scale(0.9300,1)" font-size="11.4" fill="#22a88c">54</text>
<text transform="translate(135.79,540.90) scale(0.9300,1)" font-size="11.4" fill="#20234a">26</text>
<text transform="translate(159.92,509.80) scale(0.9300,1)" font-size="11.4" fill="#22a88c">39</text>
<text transform="translate(159.84,540.90) scale(0.9300,1)" font-size="11.4" fill="#20234a">21</text>
<text transform="translate(183.88,509.80) scale(0.9300,1)" font-size="11.4" fill="#22a88c">30</text>
<text transform="translate(183.62,540.90) scale(0.9300,1)" font-size="11.4" fill="#20234a">14</text>
<text transform="translate(207.87,509.80) scale(0.9300,1)" font-size="11.4" fill="#22a88c">21</text>
<text transform="translate(207.69,540.90) scale(0.9300,1)" font-size="11.4" fill="#20234a">10</text>
<text transform="translate(232.15,509.80) scale(0.9300,1)" font-size="11.4" fill="#22a88c">11</text>
<text transform="translate(234.89,540.90) scale(0.9300,1)" font-size="11.4" fill="#20234a">4</text>
<text transform="translate(258.88,509.80) scale(0.9300,1)" font-size="11.4" fill="#22a88c">9</text>
<text transform="translate(258.86,540.90) scale(0.9300,1)" font-size="11.4" fill="#20234a">2</text>
<text transform="translate(282.85,509.80) scale(0.9300,1)" font-size="11.4" fill="#22a88c">6</text>
<text transform="translate(282.90,540.90) scale(0.9300,1)" font-size="11.4" fill="#20234a">0</text>
<text transform="translate(306.95,509.80) scale(0.9300,1)" font-size="11.4" fill="#22a88c">4</text>
<text transform="translate(306.92,540.90) scale(0.9300,1)" font-size="11.4" fill="#20234a">0</text>
<text transform="translate(330.96,509.80) scale(0.9300,1)" font-size="11.4" fill="#22a88c">4</text>
<text transform="translate(330.94,540.90) scale(0.9300,1)" font-size="11.4" fill="#20234a">0</text>
<text transform="translate(354.96,509.80) scale(0.9300,1)" font-size="11.4" fill="#22a88c">0</text>
<text transform="translate(354.96,540.90) scale(0.9300,1)" font-size="11.4" fill="#20234a">0</text>
<text transform="translate(378.97,509.80) scale(0.9300,1)" font-size="11.4" fill="#22a88c">0</text>
<text transform="translate(378.97,540.90) scale(0.9300,1)" font-size="11.4" fill="#20234a">0</text>
<text transform="translate(411.20,509.80) scale(0.9300,1)" font-size="11.4" fill="#22a88c">104</text>
<text transform="translate(414.41,540.90) scale(0.9300,1)" font-size="11.4" fill="#20234a">91</text>
<text transform="translate(438.61,509.80) scale(0.9300,1)" font-size="11.4" fill="#22a88c">75</text>
<text transform="translate(438.67,540.90) scale(0.9300,1)" font-size="11.4" fill="#20234a">53</text>
<text transform="translate(462.79,509.80) scale(0.9300,1)" font-size="11.4" fill="#22a88c">64</text>
<text transform="translate(462.95,540.90) scale(0.9300,1)" font-size="11.4" fill="#20234a">33</text>
<text transform="translate(487.29,509.80) scale(0.9300,1)" font-size="11.4" fill="#22a88c">48</text>
<text transform="translate(487.10,540.90) scale(0.9300,1)" font-size="11.4" fill="#20234a">20</text>
<text transform="translate(511.39,509.80) scale(0.9300,1)" font-size="11.4" fill="#22a88c">28</text>
<text transform="translate(511.26,540.90) scale(0.9300,1)" font-size="11.4" fill="#20234a">16</text>
<text transform="translate(535.67,509.80) scale(0.9300,1)" font-size="11.4" fill="#22a88c">21</text>
<text transform="translate(535.49,540.90) scale(0.9300,1)" font-size="11.4" fill="#20234a">10</text>
<text transform="translate(559.69,509.80) scale(0.9300,1)" font-size="11.4" fill="#22a88c">14</text>
<text transform="translate(562.93,540.90) scale(0.9300,1)" font-size="11.4" fill="#20234a">4</text>
<text transform="translate(584.00,509.80) scale(0.9300,1)" font-size="11.4" fill="#22a88c">10</text>
<text transform="translate(587.14,540.90) scale(0.9300,1)" font-size="11.4" fill="#20234a">2</text>
<text transform="translate(611.40,509.80) scale(0.9300,1)" font-size="11.4" fill="#22a88c">7</text>
<text transform="translate(611.42,540.90) scale(0.9300,1)" font-size="11.4" fill="#20234a">0</text>
<text transform="translate(635.68,509.80) scale(0.9300,1)" font-size="11.4" fill="#22a88c">5</text>
<text transform="translate(635.68,540.90) scale(0.9300,1)" font-size="11.4" fill="#20234a">0</text>
<text transform="translate(659.94,509.80) scale(0.9300,1)" font-size="11.4" fill="#22a88c">5</text>
<text transform="translate(659.94,540.90) scale(0.9300,1)" font-size="11.4" fill="#20234a">0</text>
<text transform="translate(684.04,509.80) scale(0.9300,1)" font-size="11.4" fill="#22a88c">1</text>
<text transform="translate(684.20,540.90) scale(0.9300,1)" font-size="11.4" fill="#20234a">0</text>
<text transform="translate(708.45,509.80) scale(0.9300,1)" font-size="11.4" fill="#22a88c">0</text>
<text transform="translate(708.45,540.90) scale(0.9300,1)" font-size="11.4" fill="#20234a">0</text>
<text transform="translate(742.48,509.80) scale(0.9300,1)" font-size="11.4" fill="#22a88c">105</text>
<text transform="translate(745.50,540.90) scale(0.9300,1)" font-size="11.4" fill="#20234a">94</text>
<text transform="translate(769.52,509.80) scale(0.9300,1)" font-size="11.4" fill="#22a88c">82</text>
<text transform="translate(769.52,540.90) scale(0.9300,1)" font-size="11.4" fill="#20234a">57</text>
<text transform="translate(793.29,509.80) scale(0.9300,1)" font-size="11.4" fill="#22a88c">70</text>
<text transform="translate(793.40,540.90) scale(0.9300,1)" font-size="11.4" fill="#20234a">38</text>
<text transform="translate(817.28,509.80) scale(0.9300,1)" font-size="11.4" fill="#22a88c">57</text>
<text transform="translate(817.20,540.90) scale(0.9300,1)" font-size="11.4" fill="#20234a">25</text>
<text transform="translate(841.16,509.80) scale(0.9300,1)" font-size="11.4" fill="#22a88c">38</text>
<text transform="translate(840.94,540.90) scale(0.9300,1)" font-size="11.4" fill="#20234a">16</text>
<text transform="translate(864.96,509.80) scale(0.9300,1)" font-size="11.4" fill="#22a88c">28</text>
<text transform="translate(864.85,540.90) scale(0.9300,1)" font-size="11.4" fill="#20234a">12</text>
<text transform="translate(888.73,509.80) scale(0.9300,1)" font-size="11.4" fill="#22a88c">17</text>
<text transform="translate(891.78,540.90) scale(0.9300,1)" font-size="11.4" fill="#20234a">6</text>
<text transform="translate(912.61,509.80) scale(0.9300,1)" font-size="11.4" fill="#22a88c">12</text>
<text transform="translate(915.74,540.90) scale(0.9300,1)" font-size="11.4" fill="#20234a">4</text>
<text transform="translate(939.57,509.80) scale(0.9300,1)" font-size="11.4" fill="#22a88c">7</text>
<text transform="translate(939.44,540.90) scale(0.9300,1)" font-size="11.4" fill="#20234a">1</text>
<text transform="translate(963.48,509.80) scale(0.9300,1)" font-size="11.4" fill="#22a88c">5</text>
<text transform="translate(963.32,540.90) scale(0.9300,1)" font-size="11.4" fill="#20234a">1</text>
<text transform="translate(987.36,509.80) scale(0.9300,1)" font-size="11.4" fill="#22a88c">5</text>
<text transform="translate(987.20,540.90) scale(0.9300,1)" font-size="11.4" fill="#20234a">1</text>
<text transform="translate(1011.08,509.80) scale(0.9300,1)" font-size="11.4" fill="#22a88c">1</text>
<text transform="translate(1011.24,540.90) scale(0.9300,1)" font-size="11.4" fill="#20234a">0</text>
<text transform="translate(1035.12,509.80) scale(0.9300,1)" font-size="11.4" fill="#22a88c">0</text>
<text transform="translate(1035.12,540.90) scale(0.9300,1)" font-size="11.4" fill="#20234a">0</text>
<text transform="translate(10.44,485.80) scale(0.9555,1)" font-size="11.3" fill="#20234a">Patients at risk</text>
<text transform="translate(50.20,502.50) scale(0.9100,1)" font-size="11.3" fill="#22a88c">CAMI</text>
<text transform="translate(28.74,515.00) scale(0.9060,1)" font-size="11.3" fill="#22a88c">+ CDK4/6i</text>
<text transform="translate(66.19,533.80) scale(0.9100,1)" font-size="11.3" fill="#20234a">AI</text>
<text transform="translate(28.74,545.80) scale(0.9060,1)" font-size="11.3" fill="#20234a">+ CDK4/6i</text>
<text transform="translate(991.70,45.45) scale(0.7168,1)" font-size="19.6" fill="#3d1163" font-weight="bold" stroke="#3d1163" stroke-width="0.5">S</text>
<text transform="translate(1002.88,45.45) scale(0.6050,1)" font-size="19.6" fill="#3d1163" font-weight="bold" stroke="#3d1163" stroke-width="0.5">E</text>
<text transform="translate(1012.63,45.45) scale(0.6457,1)" font-size="19.6" fill="#3d1163" font-weight="bold" stroke="#3d1163" stroke-width="0.5">R</text>
<text transform="translate(1023.32,45.45) scale(0.6502,1)" font-size="19.6" fill="#3d1163" font-weight="bold" stroke="#3d1163" stroke-width="0.5">E</text>
<text transform="translate(1033.41,45.45) scale(0.7350,1)" font-size="19.6" fill="#3d1163" font-weight="bold" stroke="#3d1163" stroke-width="0.5">N</text>
<text transform="translate(1044.77,45.45) scale(0.7053,1)" font-size="19.6" fill="#3d1163" font-weight="bold" stroke="#3d1163" stroke-width="0.5">A</text>
<text transform="translate(1063.29,45.45) scale(0.8100,1)" font-size="19.6" fill="#3d1163" font-weight="bold" stroke="#3d1163" stroke-width="0.5">6</text>
<text transform="translate(59.1,431.49) rotate(-90) scale(0.9252,1)" font-size="15" fill="#353850">Deterioration-free survival (%)</text>
<text transform="translate(44.16,563.2) scale(0.9796,1)" font-size="12" fill="#20234a"><tspan fill="#a60d77">Pink</tspan><tspan fill="#20234a"> title indicates secondary endpoint; </tspan><tspan fill="#2f52a0">blue</tspan><tspan fill="#20234a"> title indicates exploratory endpoints.</tspan></text>
<path d="M977,8 C982,8.5 988,9.5 991.3,10.8 C995,12.5 997.5,17 997.4,21 C997.3,23.5 996.5,25.5 995.7,27.2 C995.5,23 994.5,19 992.5,16.7 C990.5,14.8 987,13.8 984,13.6 L981.3,14 C981.3,17 981.3,20 981,23.2 C979,20.5 977.8,17 977.3,13.6 C977.1,11.5 977,9.5 977,8 Z" fill="#e1a11d"/>
<path d="M995.3,12.6 C998.5,9.5 1003.5,7 1008.5,5.2 C1011,9 1011.6,14 1011.3,16.5 C1011,21 1009,24.5 1006.5,26 C1003.5,28 1000,28.5 996.9,28.6 C1000.5,26.5 1004,23.5 1005.2,20 C1006,17 1005.8,14.5 1005.3,13.2 C1002,12.4 998.5,12.4 995.3,12.6 Z" fill="#ae1160"/>
<path d="M995.4,27.3 C992,24.5 987,23.5 982.5,23.9 C980,24.2 978.5,24.8 977.6,25.6 C975,29 973,34 971,38.7 C975,39.6 980,40.8 984,41.1 C986,41.2 987.8,40.9 988.9,40.3 C986,38.5 982,37 978.2,36.3 C979,34 980.5,30.5 982.5,28.3 C985,26.5 988.5,25.8 991.3,25.9 C992.8,26.1 994.2,26.6 995.4,27.3 Z" fill="#a044d6"/>
<rect x="1055.5" y="39.2" width="5.1" height="2.4" fill="#3d1163"/>
<path d="M921,564 C927,557 935,554 948,553.8 H1077" stroke="#f3f3f3" stroke-width="1.2" fill="none"/>
</svg></body></html>
